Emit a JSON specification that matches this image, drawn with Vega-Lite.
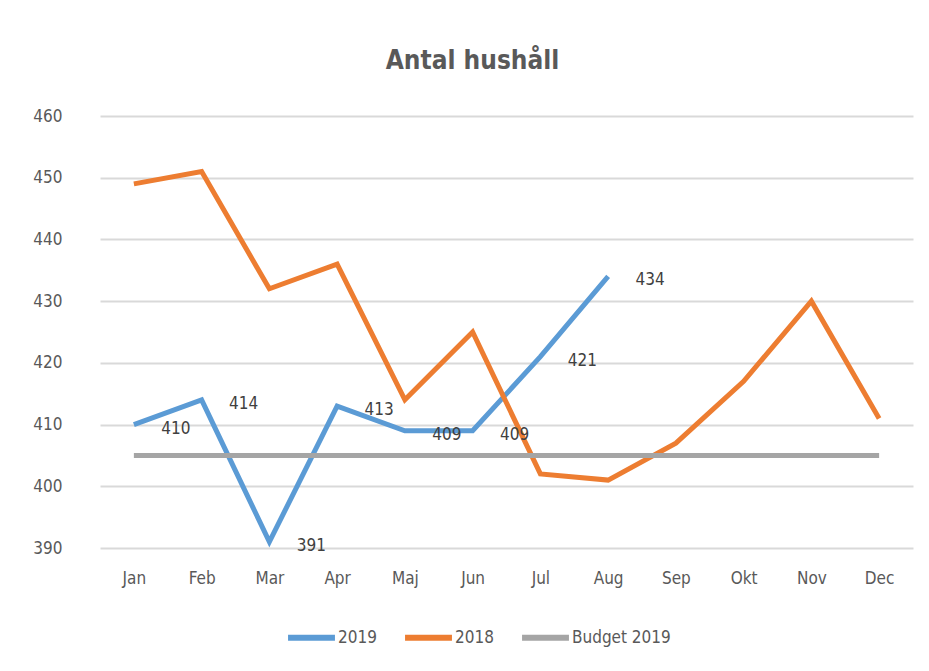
{
  "$schema": "https://vega.github.io/schema/vega-lite/v6.json",
  "width": 813,
  "height": 432,
  "autosize": "none",
  "padding": {"left": 100, "top": 116, "right": 16, "bottom": 123},
  "background": "white",
  "title": {
    "text": "Antal hushåll",
    "font": "'DejaVu Sans Condensed', 'Liberation Sans', sans-serif",
    "fontSize": 26,
    "fontWeight": "bold",
    "color": "#595959",
    "anchor": "middle",
    "dx": -34,
    "offset": 33
  },
  "config": {
    "view": {"stroke": null},
    "font": "'DejaVu Sans Condensed', 'Liberation Sans', sans-serif"
  },
  "data": {
    "values": [
      {"month": "Jan", "series": "2019", "value": 410},
      {"month": "Feb", "series": "2019", "value": 414},
      {"month": "Mar", "series": "2019", "value": 391},
      {"month": "Apr", "series": "2019", "value": 413},
      {"month": "Maj", "series": "2019", "value": 409},
      {"month": "Jun", "series": "2019", "value": 409},
      {"month": "Jul", "series": "2019", "value": 421},
      {"month": "Aug", "series": "2019", "value": 434},
      {"month": "Jan", "series": "2018", "value": 449},
      {"month": "Feb", "series": "2018", "value": 451},
      {"month": "Mar", "series": "2018", "value": 432},
      {"month": "Apr", "series": "2018", "value": 436},
      {"month": "Maj", "series": "2018", "value": 414},
      {"month": "Jun", "series": "2018", "value": 425},
      {"month": "Jul", "series": "2018", "value": 402},
      {"month": "Aug", "series": "2018", "value": 401},
      {"month": "Sep", "series": "2018", "value": 407},
      {"month": "Okt", "series": "2018", "value": 417},
      {"month": "Nov", "series": "2018", "value": 430},
      {"month": "Dec", "series": "2018", "value": 411},
      {"month": "Jan", "series": "Budget 2019", "value": 405},
      {"month": "Feb", "series": "Budget 2019", "value": 405},
      {"month": "Mar", "series": "Budget 2019", "value": 405},
      {"month": "Apr", "series": "Budget 2019", "value": 405},
      {"month": "Maj", "series": "Budget 2019", "value": 405},
      {"month": "Jun", "series": "Budget 2019", "value": 405},
      {"month": "Jul", "series": "Budget 2019", "value": 405},
      {"month": "Aug", "series": "Budget 2019", "value": 405},
      {"month": "Sep", "series": "Budget 2019", "value": 405},
      {"month": "Okt", "series": "Budget 2019", "value": 405},
      {"month": "Nov", "series": "Budget 2019", "value": 405},
      {"month": "Dec", "series": "Budget 2019", "value": 405}
    ]
  },
  "encoding": {
    "x": {
      "field": "month",
      "type": "ordinal",
      "sort": ["Jan","Feb","Mar","Apr","Maj","Jun","Jul","Aug","Sep","Okt","Nov","Dec"],
      "scale": {"type": "point", "padding": 0.5},
      "axis": {
        "title": null,
        "labelAngle": 0,
        "domain": false,
        "ticks": false,
        "grid": false,
        "labelFontSize": 17,
        "labelColor": "#595959",
        "labelPadding": 22
      }
    },
    "y": {
      "field": "value",
      "type": "quantitative",
      "scale": {"domain": [390, 460], "nice": false, "zero": false},
      "axis": {
        "title": null,
        "values": [390, 400, 410, 420, 430, 440, 450, 460],
        "domain": false,
        "ticks": false,
        "gridColor": "#d9d9d9",
        "gridWidth": 2,
        "labelFontSize": 17,
        "labelColor": "#595959",
        "labelPadding": 38
      }
    }
  },
  "layer": [
    {
      "mark": {"type": "line", "strokeWidth": 5},
      "encoding": {
        "color": {
          "field": "series",
          "type": "nominal",
          "sort": ["2019", "2018", "Budget 2019"],
          "scale": {"domain": ["2019", "2018", "Budget 2019"], "range": ["#5B9BD5", "#ED7D31", "#A5A5A5"]},
          "legend": {
            "title": null,
            "orient": "none",
            "legendX": 185,
            "legendY": 495,
            "direction": "horizontal",
            "columns": 3,
            "columnPadding": 16,
            "symbolType": "stroke",
            "symbolSize": 2200,
            "symbolStrokeWidth": 6,
            "labelFontSize": 17,
            "labelColor": "#595959",
            "labelOffset": 0
          }
        }
      }
    },
    {
      "transform": [{"filter": "datum.series === '2019'"}],
      "mark": {"type": "text", "dx": 42, "dy": 4, "fontSize": 17, "color": "#404040"},
      "encoding": {"text": {"field": "value", "type": "quantitative"}}
    }
  ]
}
